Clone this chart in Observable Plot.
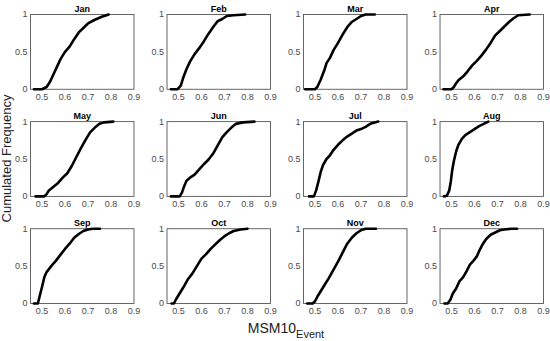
<!DOCTYPE html>
<html>
<head>
<meta charset="utf-8">
<script src="https://cdn.jsdelivr.net/npm/d3@7"></script>
<script src="https://cdn.jsdelivr.net/npm/@observablehq/plot@0.6"></script>
<style>
  html, body { margin: 0; padding: 0; background: #fff; }
  #chart { width: 550px; height: 341px; }
</style>
</head>
<body>
<div id="chart"></div>
<script>
// Month names (panel titles)
const months = ["Jan","Feb","Mar","Apr","May","Jun","Jul","Aug","Sep","Oct","Nov","Dec"];
const xTicks = [0.5, 0.6, 0.7, 0.8, 0.9];
const yTicks = [0, 0.5, 1];
const xTickLabels = ["0.5", "0.6", "0.7", "0.8", "0.9"];
const yTickLabels = ["0", "0.5", "1"];

// Empirical cumulative frequency curves, [MSM10_Event, cumulated frequency]
const jan = [[0.465,0],[0.50,0],[0.52,0.03],[0.535,0.1],[0.55,0.2],[0.565,0.3],[0.58,0.4],[0.60,0.5],[0.62,0.57],[0.64,0.67],[0.66,0.76],[0.68,0.82],[0.70,0.88],[0.73,0.93],[0.76,0.97],[0.79,1]];
const feb = [[0.467,0],[0.495,0],[0.51,0.05],[0.52,0.15],[0.535,0.27],[0.55,0.37],[0.57,0.47],[0.59,0.55],[0.61,0.64],[0.63,0.74],[0.65,0.83],[0.67,0.91],[0.69,0.94],[0.71,0.98],[0.74,0.99],[0.79,1]];
const mar = [[0.457,0],[0.50,0],[0.51,0.03],[0.525,0.13],[0.54,0.25],[0.55,0.35],[0.565,0.42],[0.58,0.52],[0.60,0.62],[0.62,0.73],[0.64,0.83],[0.66,0.9],[0.68,0.94],[0.70,0.98],[0.72,1],[0.76,1]];
const apr = [[0.465,0],[0.50,0],[0.51,0.03],[0.52,0.08],[0.53,0.12],[0.55,0.17],[0.57,0.24],[0.59,0.32],[0.61,0.38],[0.63,0.45],[0.65,0.53],[0.67,0.62],[0.69,0.72],[0.71,0.78],[0.73,0.84],[0.75,0.9],[0.77,0.95],[0.79,0.99],[0.84,1]];
const may = [[0.472,0],[0.51,0],[0.52,0.03],[0.53,0.08],[0.55,0.13],[0.57,0.18],[0.59,0.25],[0.61,0.31],[0.63,0.41],[0.65,0.53],[0.67,0.65],[0.69,0.76],[0.71,0.86],[0.73,0.92],[0.75,0.97],[0.77,0.99],[0.81,1]];
const jun = [[0.467,0],[0.505,0],[0.515,0.05],[0.525,0.14],[0.535,0.21],[0.55,0.25],[0.57,0.29],[0.59,0.36],[0.61,0.43],[0.63,0.49],[0.65,0.57],[0.67,0.68],[0.69,0.79],[0.71,0.86],[0.73,0.92],[0.75,0.97],[0.78,0.99],[0.83,1]];
const jul = [[0.474,0],[0.495,0],[0.505,0.08],[0.515,0.2],[0.525,0.33],[0.535,0.42],[0.55,0.5],[0.565,0.55],[0.58,0.62],[0.60,0.69],[0.62,0.75],[0.64,0.8],[0.66,0.84],[0.68,0.88],[0.70,0.9],[0.72,0.93],[0.74,0.97],[0.775,1]];
const aug = [[0.467,0],[0.48,0.01],[0.49,0.08],[0.497,0.2],[0.503,0.35],[0.51,0.47],[0.52,0.6],[0.53,0.69],[0.545,0.77],[0.56,0.82],[0.58,0.86],[0.60,0.9],[0.62,0.94],[0.64,0.97],[0.66,1]];
const sep = [[0.465,0],[0.482,0],[0.49,0.1],[0.50,0.22],[0.51,0.35],[0.52,0.42],[0.54,0.5],[0.56,0.57],[0.58,0.65],[0.60,0.73],[0.62,0.8],[0.64,0.88],[0.66,0.93],[0.68,0.97],[0.70,0.99],[0.72,1],[0.752,1]];
const oct = [[0.47,0],[0.48,0],[0.49,0.06],[0.50,0.11],[0.52,0.21],[0.54,0.32],[0.56,0.4],[0.58,0.5],[0.60,0.6],[0.62,0.66],[0.64,0.73],[0.66,0.79],[0.68,0.85],[0.70,0.9],[0.72,0.94],[0.74,0.97],[0.77,0.99],[0.80,1]];
const nov = [[0.466,0],[0.49,0],[0.50,0.03],[0.51,0.09],[0.52,0.14],[0.54,0.24],[0.56,0.34],[0.58,0.45],[0.60,0.56],[0.62,0.68],[0.64,0.8],[0.66,0.88],[0.68,0.94],[0.70,0.98],[0.72,1],[0.765,1]];
const dec = [[0.469,0],[0.483,0],[0.495,0.05],[0.505,0.13],[0.52,0.2],[0.535,0.3],[0.55,0.35],[0.565,0.43],[0.58,0.52],[0.595,0.57],[0.61,0.63],[0.62,0.7],[0.635,0.79],[0.65,0.86],[0.67,0.92],[0.69,0.95],[0.71,0.98],[0.73,0.99],[0.76,1],[0.785,1]];

const series = [jan, feb, mar, apr, may, jun, jul, aug, sep, oct, nov, dec];

const points = months.flatMap((m, i) =>
  series[i].map(([x, y]) => ({month: m, col: i % 4, row: Math.floor(i / 4), x, y}))
);
const panels = months.map((m, i) => ({month: m, col: i % 4, row: Math.floor(i / 4)}));

const svg = Plot.plot({
  width: 550,
  height: 341,
  marginLeft: 30,
  marginRight: 7,
  marginTop: 14,
  marginBottom: 38,
  style: {fontFamily: "'Liberation Sans', Arial, sans-serif", fontSize: "9px", color: "#4a4a4a", background: "#fff"},
  fx: {domain: [0, 1, 2, 3], paddingInner: 0.242, paddingOuter: 0, axis: null, round: false},
  fy: {domain: [0, 1, 2], paddingInner: 0.302, paddingOuter: 0, axis: null, round: false},
  x: {domain: [0.45, 0.9]},
  y: {domain: [0, 1]},
  marks: [
    Plot.frame({stroke: "#555", strokeWidth: 0.9}),
    Plot.axisX({ticks: xTicks, tickSize: 0, tickPadding: 4, label: null, facetAnchor: null,
      tickFormat: d => xTickLabels[xTicks.indexOf(d)]}),
    Plot.axisY({ticks: yTicks, tickSize: 0, tickPadding: 3, label: null, facetAnchor: null,
      tickFormat: d => yTickLabels[yTicks.indexOf(d)]}),
    Plot.line(points, {x: "x", y: "y", z: "month", fx: "col", fy: "row", stroke: "#000", strokeWidth: 2.6, strokeLinejoin: "round", strokeLinecap: "round"}),
    Plot.text(panels, {fx: "col", fy: "row", text: "month", frameAnchor: "top", lineAnchor: "bottom", dy: -3, fontWeight: "bold", fill: "#000", fontSize: 9})
  ]
});

const s = d3.select(svg);
// x label with subscript
const xl = s.append("text")
  .attr("x", 286)
  .attr("y", 333)
  .attr("text-anchor", "middle")
  .attr("fill", "#222")
  .style("font-size", "14px");
xl.append("tspan").text("MSM10");
xl.append("tspan").attr("dy", 5).style("font-size", "11px").text("Event");
// y label
s.append("text")
  .attr("transform", "translate(11,158.5) rotate(-90)")
  .attr("text-anchor", "middle")
  .attr("fill", "#222")
  .style("font-size", "13px")
  .text("Cumulated Frequency");

document.getElementById("chart").appendChild(svg);
</script>
</body>
</html>
